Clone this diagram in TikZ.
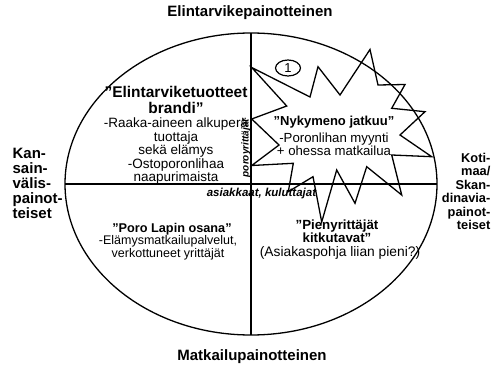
\documentclass[tikz,border=0pt]{standalone}
\usepackage{fontspec}
\setmainfont{Liberation Sans}
\usetikzlibrary{shapes.geometric}
\newcommand{\ultfont}{\fontsize{15.5}{16}\selectfont\bfseries}
\begin{document}
\begin{tikzpicture}[x=1pt,y=-1pt,line width=1.3pt,
  axislbl/.style={inner sep=0pt,font=\fontsize{15}{15}\selectfont\bfseries},
  ttl/.style={inner sep=0pt,align=center,font=\fontsize{13}{12}\selectfont\bfseries},
  bodytxt/.style={inner sep=0pt,align=center,font=\fontsize{13.5}{12.5}\selectfont},
  smallit/.style={inner sep=0pt,font=\fontsize{11.5}{11}\selectfont\bfseries\itshape}]
\useasboundingbox (0,0) rectangle (502,371);
% frame
\draw (251,184) ellipse [x radius=186pt, y radius=151pt];
\coordinate (vt) at (251,33);
\coordinate (vb) at (251,335);
\coordinate (hl) at (65,184);
\coordinate (hr) at (437,184);
\draw (vt) -- (vb);
\draw (hl) -- (hr);
% star
\draw[line join=miter] (251.7,67.5) -- (310,97) -- (318,66.7) -- (340,95) -- (370,49.5)
  -- (378,85) -- (405,84.5) -- (391.7,108.3) -- (425,111.7) -- (400,135)
  -- (431.7,156.7) -- (391.7,155) -- (401.7,195) -- (366.7,166.7) -- (355,203.3)
  -- (336.7,170) -- (321.7,222) -- (313,176.7) -- (288.3,191.7) -- (293.3,163.3)
  -- (251.7,165.5) -- (279,145) -- (251.7,119) -- (286.7,106) -- cycle;
\node[draw,ellipse,minimum width=25pt,minimum height=16pt,inner sep=0pt,line width=1.2pt,
  font=\fontsize{13}{13}\selectfont] (one) at (288,68) {1};
% axis labels
\node[axislbl] (top) at (250,13) {Elintarvikepainotteinen};
\node[axislbl] (bottom) at (252,357) {Matkailupainotteinen};
\node[axislbl,align=left,anchor=west] (left) at (12,183) {Kan-\\sain-\\välis-\\painot-\\teiset};
\node[axislbl,align=right,anchor=east,font=\fontsize{12.8}{13.4}\selectfont\bfseries] (right) at (491,191.5) {Koti-\\maa/\\Skan-\\dinavia-\\painot-\\teiset};
% quadrant texts
\node[bodytxt] (ultext) at (176,135.5) {{\ultfont ”Elintarviketuotteet}\\[3.5pt]{\ultfont brandi”}\\[1.5pt]-Raaka-aineen alkuperä\\tuottaja\\sekä elämys\\-Ostoporonlihaa\\naapurimaista};
\node[ttl] (urtitle) at (334,121.7) {”Nykymeno jatkuu”};
\node[bodytxt,font=\fontsize{13.2}{13}\selectfont] (urbody) at (334,144.5) {-Poronlihan myynti\\+ ohessa matkailua};
\node[ttl,font=\fontsize{12.7}{12}\selectfont\bfseries] (lltitle) at (172,229) {”Poro Lapin osana”};
\node[bodytxt,font=\fontsize{12.5}{12.8}\selectfont] (llbody) at (168,248) {-Elämysmatkailupalvelut,\\verkottuneet yrittäjät};
\node[ttl,font=\fontsize{13.3}{12}\selectfont\bfseries] (lrtitle) at (337,231) {”Pienyrittäjät\\kitkutavat”};
\node[bodytxt,font=\fontsize{13.8}{12}\selectfont] (lrbody) at (340,253) {(Asiakaspohja liian pieni?)};
% axis side labels
\node[smallit,rotate=90,font=\fontsize{10}{10}\selectfont\bfseries\itshape] (poro) at (246,148) {poroyrittäjät};
\node[smallit] (asiak) at (261.5,194) {asiakkaat, kuluttajat};
\end{tikzpicture}
\end{document}
